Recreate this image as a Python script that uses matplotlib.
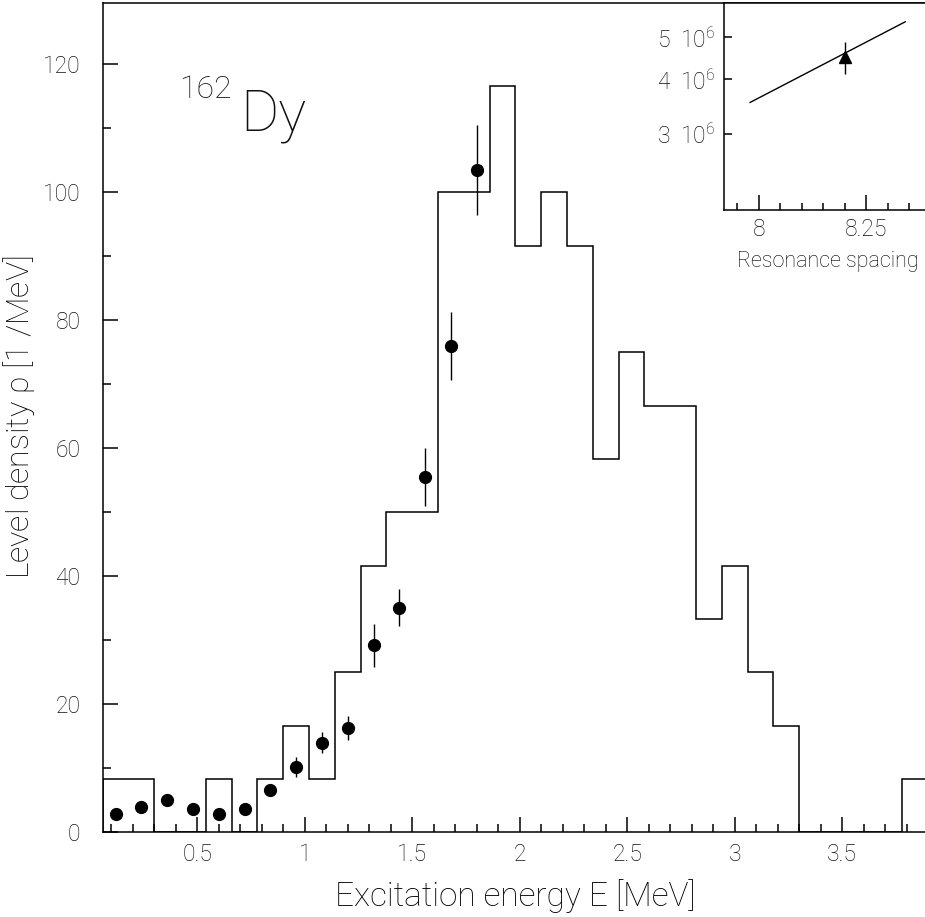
"""
Level density of 162Dy: histogram of counted levels per bin with the
extracted level density points, plus an inset for the resonance spacing.
"""

import numpy as np
import matplotlib
matplotlib.use("Agg")
import matplotlib.pyplot as plt
from matplotlib.ticker import MultipleLocator, FixedLocator, FixedFormatter, NullLocator

plt.rcParams['font.family'] = ['Roboto', 'DejaVu Sans']
plt.rcParams['font.weight'] = 'light'
plt.rcParams['axes.labelweight'] = 'light'
plt.rcParams['mathtext.default'] = 'regular'
plt.rcParams['text.color'] = '#111111'
plt.rcParams['xtick.labelcolor'] = '#111111'
plt.rcParams['ytick.labelcolor'] = '#111111'

# Histogram of known levels (bin centres in MeV, density in 1/MeV)
BIN_CENTERS = [0.12, 0.24, 0.36, 0.48, 0.60, 0.72, 0.84, 0.96, 1.08, 1.20, 1.32,
               1.44, 1.56, 1.68, 1.80, 1.92, 2.04, 2.16, 2.28, 2.40, 2.52, 2.64,
               2.76, 2.88, 3.00, 3.12, 3.24, 3.36, 3.48, 3.60, 3.72, 3.84]
BIN_WIDTH = 0.12
LEVEL_RHO = [8.33, 8.33, 0.0, 0.0, 8.33, 0.0, 8.33, 16.67, 8.33, 25.0, 41.67,
             50.0, 50.0, 100.0, 100.0, 116.67, 91.67, 100.0, 91.67, 58.33, 75.0, 66.67,
             66.67, 33.33, 41.67, 25.0, 16.67, 0.0, 0.0, 0.0, 0.0, 8.33]

# Extracted level density points
E_POINTS = [0.12, 0.24, 0.36, 0.48, 0.60, 0.72, 0.84, 0.96, 1.08, 1.20, 1.32,
            1.44, 1.56, 1.68, 1.80]
RHO_POINTS = [2.8, 3.9, 5.1, 3.6, 2.8, 3.7, 6.6, 10.2, 14.0, 16.3, 29.2,
              35.1, 55.5, 76.0, 103.5]
RHO_ERR = [0.4, 0.5, 0.6, 0.5, 0.4, 0.5, 0.8, 1.5, 1.6, 1.9, 3.3,
           2.9, 4.5, 5.3, 7.0]

# Inset: resonance spacing
INSET_LINE_X = [7.98, 8.34]
INSET_LINE_Y = [3.54e6, 5.43e6]
INSET_PT_X = [8.2]
INSET_PT_Y = [4.5e6]
INSET_PT_ERR = [0.39e6]
INSET_YTICKS = [3e6, 4e6, 5e6]
INSET_YLABELS = ["3  10$^{6}$", "4  10$^{6}$", "5  10$^{6}$"]

fig = plt.figure(figsize=(9.25, 9.17), dpi=100)
ax = fig.add_axes([0.1110, 0.0924, 0.8925, 0.9044])

centers = np.array(BIN_CENTERS)
edges = np.append(centers - BIN_WIDTH / 2, centers[-1] + BIN_WIDTH / 2)
ax.stairs(LEVEL_RHO, edges, color='black', linewidth=1.1)
ax.errorbar(E_POINTS, RHO_POINTS, yerr=RHO_ERR, fmt='o', color='black',
            markersize=8.5, elinewidth=1.0, capsize=0)

ax.set_xlim(0.06, 3.90)
ax.set_ylim(0, 129.6)
ax.xaxis.set_major_locator(MultipleLocator(0.5))
ax.xaxis.set_minor_locator(MultipleLocator(0.1))
ax.yaxis.set_major_locator(MultipleLocator(20))
ax.yaxis.set_minor_locator(MultipleLocator(10))
ax.xaxis.set_major_formatter(plt.FuncFormatter(lambda v, p: f"{v:g}"))
ax.tick_params(which='both', direction='in', width=1.1, labelsize=16.5)
ax.tick_params(which='major', length=11)
ax.tick_params(which='minor', length=6)
ax.tick_params(axis='y', pad=16)
ax.tick_params(axis='x', pad=8)
for s in ax.spines.values():
    s.set_linewidth(1.1)
ax.spines['right'].set_visible(False)

ax.set_xlabel("Excitation energy E [MeV]", fontsize=24, labelpad=9)
ax.set_ylabel("Level density $\\rho$ [1 /MeV]", fontsize=23, labelpad=4)

ax.text(0.416, 114.7, "162", fontsize=23, ha='left', va='baseline')
ax.text(0.700, 109.7, "Dy", fontsize=42, ha='left', va='baseline')

# Inset
ins = fig.add_axes([0.7830, 0.7710, 0.2235, 0.2257])
ins.plot(INSET_LINE_X, INSET_LINE_Y, color='black', linewidth=1.0)
ins.errorbar(INSET_PT_X, INSET_PT_Y, yerr=INSET_PT_ERR, fmt='^', color='black',
             markersize=8, elinewidth=1.0, capsize=0)
ins.set_yscale('log')
ins.set_xlim(7.92, 8.40)
ins.set_ylim(2e6, 6e6)
ins.xaxis.set_major_locator(MultipleLocator(0.25))
ins.xaxis.set_minor_locator(MultipleLocator(0.05))
ins.xaxis.set_major_formatter(plt.FuncFormatter(lambda v, p: f"{v:g}"))
ins.yaxis.set_major_locator(FixedLocator(INSET_YTICKS))
ins.yaxis.set_major_formatter(FixedFormatter(INSET_YLABELS))
ins.yaxis.set_minor_locator(NullLocator())
ins.tick_params(which='both', direction='in', width=1.1, labelsize=16.5)
ins.tick_params(axis='x', which='major', length=11, pad=6)
ins.tick_params(axis='x', which='minor', length=5)
ins.tick_params(axis='y', which='major', length=6, pad=6)
for s in ins.spines.values():
    s.set_linewidth(1.1)
ins.spines['right'].set_visible(False)
ins.set_xlabel("Resonance spacing", fontsize=15.5, labelpad=7)

fig.savefig("out.png", dpi=100)
